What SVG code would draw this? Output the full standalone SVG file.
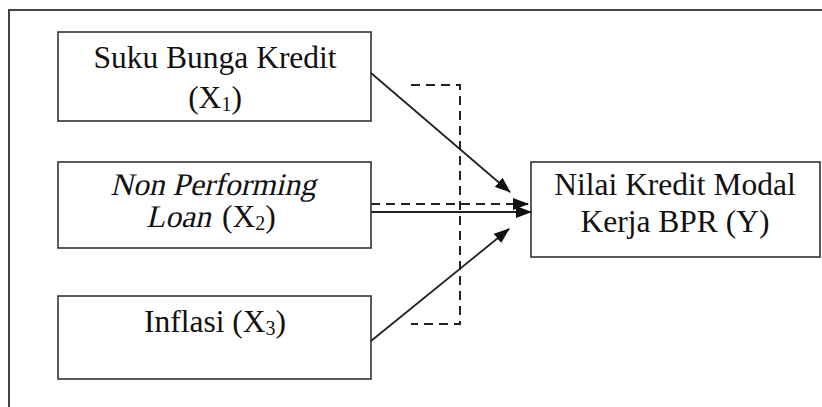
<svg xmlns="http://www.w3.org/2000/svg" width="822" height="407" viewBox="0 0 822 407">
<style>
.box{fill:#fff;stroke:#333;stroke-width:1.6}
.t{font-family:"Liberation Serif",serif;font-size:31.5px;fill:#111;text-anchor:middle}
.s{text-anchor:start}
.sub{font-size:20px}
.ln{stroke:#222;stroke-width:1.8;fill:none}
.dash{stroke:#222;stroke-width:2;fill:none;stroke-dasharray:9 6}
</style>
<defs>
<marker id="ah" markerUnits="userSpaceOnUse" markerWidth="16" markerHeight="12" refX="15" refY="6" orient="auto">
<path d="M0,0 L16,6 L0,12 Z" fill="#111"/>
</marker>
</defs>
<rect x="9" y="10" width="900" height="500" fill="none" stroke="#444" stroke-width="2"/>
<g id="x1">
<rect class="box" x="58" y="32" width="313" height="89"/>
<text class="t" x="215" y="68">Suku Bunga Kredit</text>
<text class="t" x="215" y="108">(X<tspan class="sub" dy="3">1</tspan><tspan dy="-3">)</tspan></text>
</g>
<g id="x2">
<rect class="box" x="58" y="162" width="313" height="86"/>
<text class="t" transform="translate(213,195) skewX(-13)">Non Performing</text>
<text class="t s" transform="translate(146,227) skewX(-13)">Loan</text>
<text class="t s" x="222" y="227">(X<tspan class="sub" dy="3">2</tspan><tspan dy="-3">)</tspan></text>
</g>
<g id="x3">
<rect class="box" x="58" y="296" width="313" height="83"/>
<text class="t" x="215" y="332">Inflasi (X<tspan class="sub" dy="3">3</tspan><tspan dy="-3">)</tspan></text>
</g>
<g id="y">
<rect class="box" x="531" y="162" width="289" height="95"/>
<text class="t" x="675" y="195">Nilai Kredit Modal</text>
<text class="t" x="675" y="232">Kerja BPR (Y)</text>
</g>
<g id="connectors">
<path class="dash" d="M411,85 H460 V324 H411"/>
<line class="ln" x1="371" y1="73" x2="510" y2="192" marker-end="url(#ah)"/>
<line class="dash" x1="371" y1="204" x2="528" y2="204" marker-end="url(#ah)"/>
<line class="ln" x1="371" y1="212" x2="531" y2="212" marker-end="url(#ah)"/>
<line class="ln" x1="371" y1="341" x2="509" y2="229" marker-end="url(#ah)"/>
</g>
</svg>
